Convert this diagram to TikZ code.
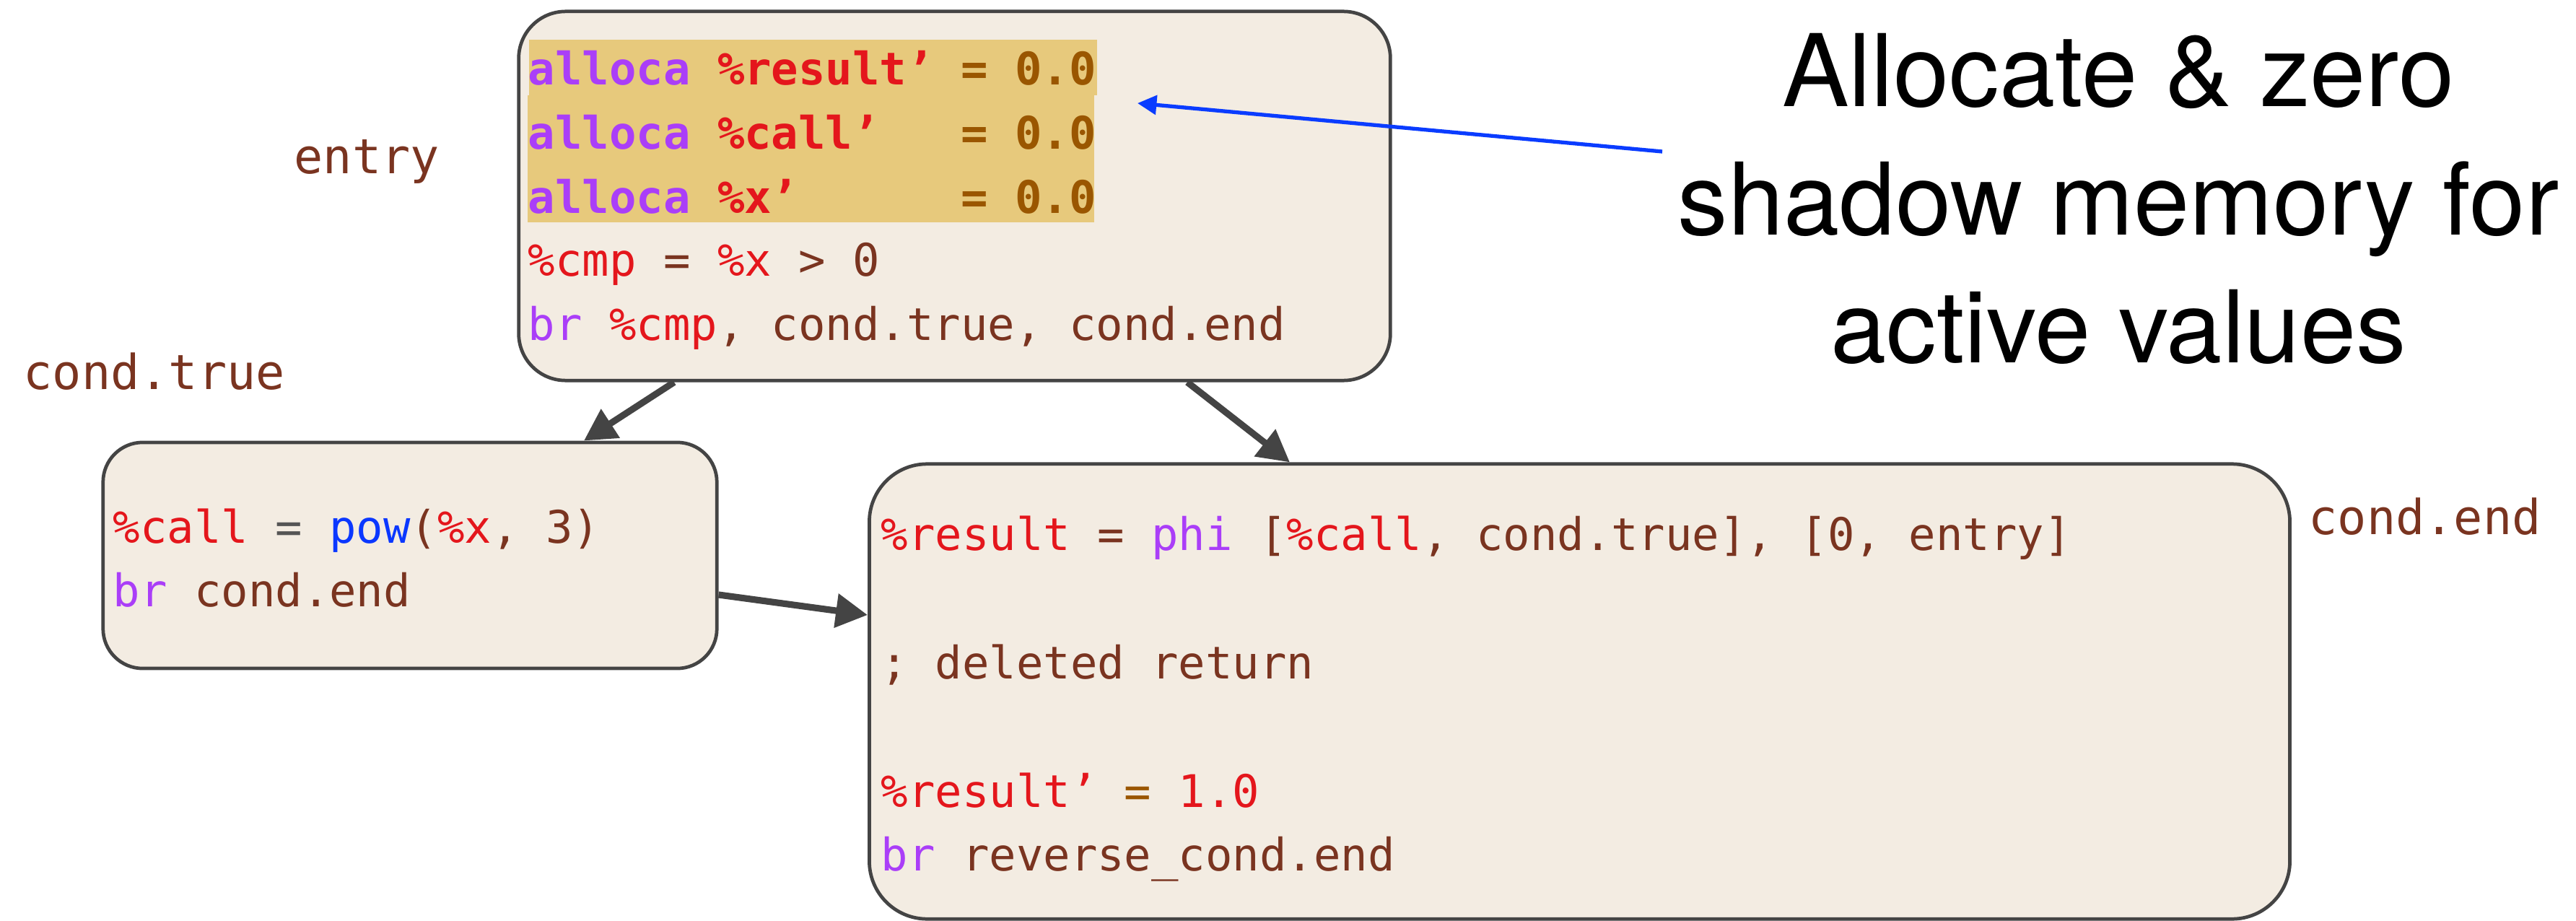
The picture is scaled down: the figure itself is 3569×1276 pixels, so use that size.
\documentclass[tikz,border=0pt]{standalone}
\usepackage{fontspec}
\newfontfamily\codefont{DejaVu Sans Mono}
\newfontfamily\notefont{TeX Gyre Heros}
\usetikzlibrary{arrows.meta}
\definecolor{boxfill}{HTML}{F3ECE2}
\definecolor{bordergray}{HTML}{444444}
\definecolor{hl}{HTML}{E7C97C}
\definecolor{cpurple}{HTML}{AA3EF8}
\definecolor{cred}{HTML}{E4161C}
\definecolor{cbrown}{HTML}{7A3420}
\definecolor{corange}{HTML}{9A5600}
\definecolor{cblue}{HTML}{0A37FF}
\definecolor{cgray}{HTML}{555555}
\definecolor{arrowblue}{HTML}{0A3CFF}
\begin{document}
\begin{tikzpicture}[x=0.01cm,y=-0.01cm,
  blk/.style={draw=bordergray, fill=boxfill, line width=1.35pt, rectangle, inner sep=0pt},
  code/.style={anchor=base west, inner sep=0pt, font=\codefont\fontsize{17.7pt}{25pt}\selectfont, text=cbrown},
  lbl/.style={anchor=base west, inner sep=0pt, font=\codefont\fontsize{19pt}{25pt}\selectfont, text=cbrown},
  note/.style={anchor=base, inner sep=0pt, font=\notefont\fontsize{39.5pt}{50pt}\selectfont, text=black},
  conn/.style={draw=bordergray, line width=2.6pt, -{Triangle[length=12.5pt,width=13pt]}},
  callout/.style={draw=arrowblue, line width=1.5pt, -{Triangle[length=7.5pt,width=7.5pt]}},
]
\useasboundingbox (0,0) rectangle (3569,1276);

% blocks
\node[blk, rounded corners=0.65cm, minimum width=12.07cm, minimum height=5.11cm] (entry) at (1322.5,271.5) {};
\node[blk, rounded corners=0.55cm, minimum width=8.50cm, minimum height=3.13cm] (ctrue) at (568,769.5) {};
\node[blk, rounded corners=0.80cm, minimum width=19.67cm, minimum height=6.30cm] (cend) at (2188.5,958) {};

% highlight of the shadow allocations
\fill[hl] (733,55) rectangle (1520,132);
\fill[hl] (731,132) rectangle (1516,308);

% entry block code
\node[code] (e1) at (731,118) {\bfseries\color{cpurple}alloca \color{cred}\%result’ \color{corange}= 0.0};
\node[code] (e2) at (731,206) {\bfseries\color{cpurple}alloca \color{cred}\%call’~~~\color{corange}= 0.0};
\node[code] (e3) at (731,295) {\bfseries\color{cpurple}alloca \color{cred}\%x’~~~~~~\color{corange}= 0.0};
\node[code] (e4) at (731,382) {\color{cred}\%cmp \color{cbrown}= \color{cred}\%x \color{cbrown}> 0};
\node[code] (e5) at (731,471) {\color{cpurple}br \color{cred}\%cmp\color{cbrown}, cond.true, cond.end};

% cond.true block code
\node[code] (t1) at (156,752) {\color{cred}\%call \color{cgray}= \color{cblue}pow\color{cbrown}(\color{cred}\%x\color{cbrown}, 3)};
\node[code] (t2) at (156,840) {\color{cpurple}br \color{cbrown}cond.end};

% cond.end block code
\node[code] (c1) at (1220,762) {\color{cred}\%result \color{cbrown}= \color{cpurple}phi \color{cbrown}[\color{cred}\%call\color{cbrown}, cond.true], [0, entry]};
\node[code] (c2) at (1220,940) {; deleted return};
\node[code] (c3) at (1220,1118) {\color{cred}\%result’ \color{corange}= \color{cred}1.0};
\node[code] (c4) at (1220,1206) {\color{cpurple}br \color{cbrown}reverse\_cond.end};

% block labels
\node[lbl] (lentry) at (407,241) {entry};
\node[lbl] (ltrue) at (32,539) {cond.true};
\node[lbl] (lend) at (3198,740) {cond.end};

% annotation
\node[note] (n1) at (2935,148) {Allocate \& zero};
\node[note] (n2) at (2935,325) {shadow memory for};
\node[note] (n3) at (2935,502) {active values};

% connectors
\draw[conn] (entry.south -| 934,0) -- (ctrue.north -| 809,0);
\draw[conn] (entry.south -| 1645,0) -- (cend.north -| 1787,0);
\draw[conn] (ctrue.east |- 0,824) -- (cend.west |- 0,852);

\coordinate (calloutstart) at (2303,210);
\coordinate (callouttip) at (1576,143);
\draw[callout] (calloutstart) -- (callouttip);
\end{tikzpicture}
\end{document}
